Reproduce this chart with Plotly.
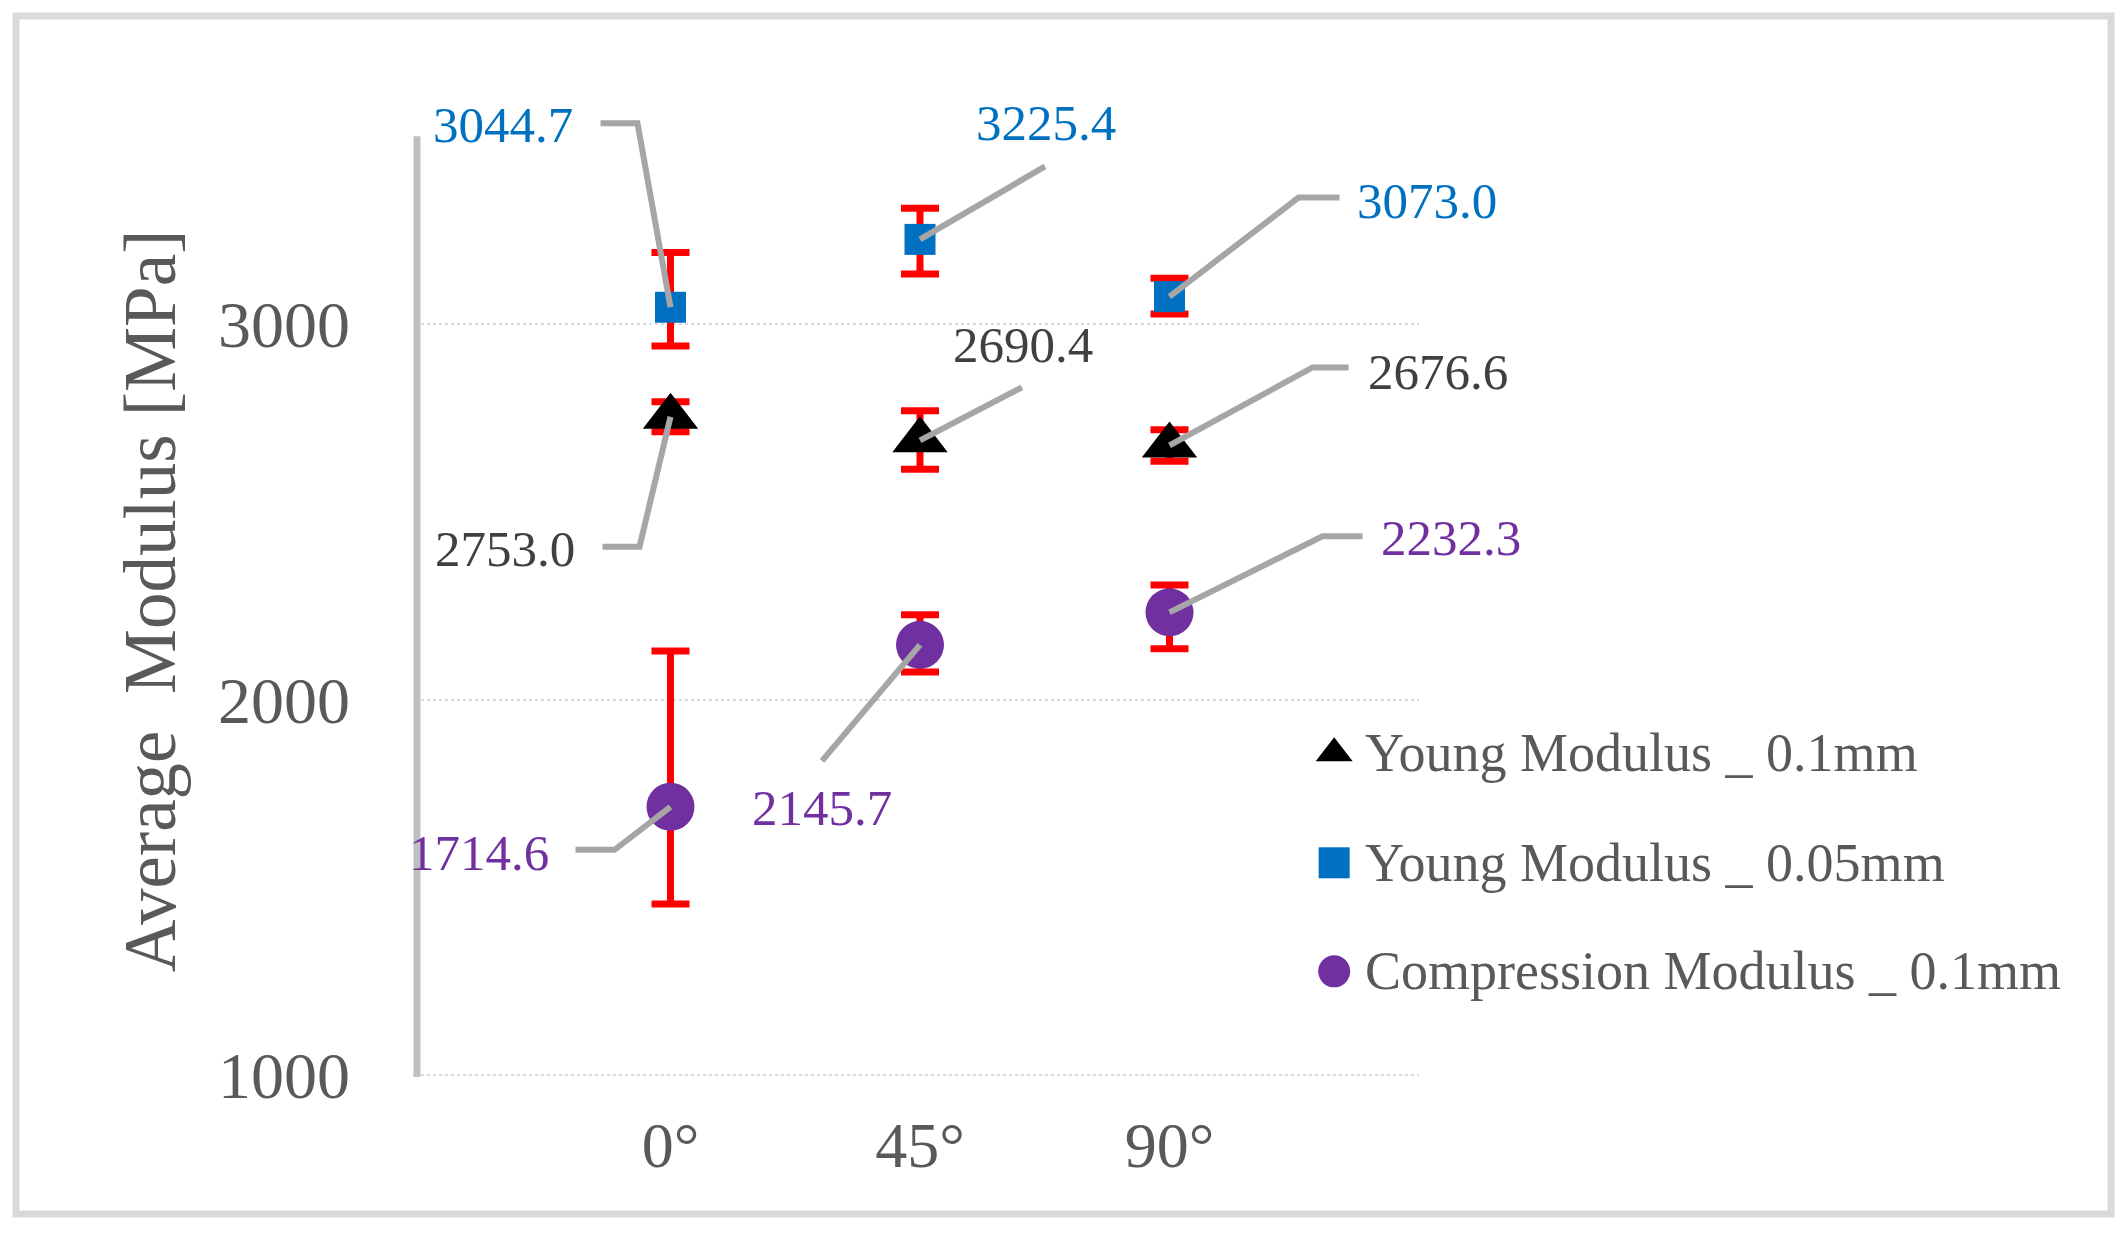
import plotly.graph_objects as go

# ── data ──────────────────────────────────────────────────────────────
categories = ["0°", "45°", "90°"]
x_pos = [1, 2, 3]

young_01_name = "Young Modulus _ 0.1mm"
young_01 = [2753.0, 2690.4, 2676.6]
young_01_err_plus = [40, 79, 42]
young_01_err_minus = [40, 77, 42]

young_005_name = "Young Modulus _ 0.05mm"
young_005 = [3044.7, 3225.4, 3073.0]
young_005_err_plus = [146, 83, 49]
young_005_err_minus = [103, 92, 46]

comp_01_name = "Compression Modulus _ 0.1mm"
comp_01 = [1714.6, 2145.7, 2232.3]
comp_01_err_plus = [415, 80, 73]
comp_01_err_minus = [259, 72, 97]

# ── style ─────────────────────────────────────────────────────────────
FONT = "Liberation Serif"
GREY_TXT = "#595959"
LEADER = "#A6A6A6"
# page body has an 8px margin, so the figure is drawn 16px smaller
W, H = 2107, 1217
ML, MR, MT, MB = 413, 696, 117, 148
Y_RANGE = [995, 3530]   # a bit of head room so the top leader isn't clipped
Y_AXIS_TOP = 3500

# label placement in px relative to each point: leader path, text shift, anchor
label_style = {
    "young_01": [
        ("M0,0 L-31,-130 L-68,-130", -94, -132, "right"),
        ("M0,0 L102,53", 103, 95, "center"),
        ("M0,0 L143,78 L179,78", 196, 73, "left"),
    ],
    "young_005": [
        ("M0,0 L-33,184 L-70,184", -96, 182, "right"),
        ("M0,0 L125,73", 126, 116, "center"),
        ("M0,0 L129,99 L170,99", 185, 96, "left"),
    ],
    "comp_01": [
        ("M0,0 L-56,-43 L-95,-43", -120, -46, "right"),
        ("M0,0 L-98,-116", -98, -163, "center"),
        ("M0,0 L153,76 L193,76", 209, 74, "left"),
    ],
}

series = [
    ("young_01", young_01_name, young_01, young_01_err_plus, young_01_err_minus,
     "#000000", "#404040", "triangle-up", 48),
    ("young_005", young_005_name, young_005, young_005_err_plus, young_005_err_minus,
     "#0070C0", "#0070C0", "square", 31),
    ("comp_01", comp_01_name, comp_01, comp_01_err_plus, comp_01_err_minus,
     "#7030A0", "#7030A0", "circle", 48),
]


def y_frac(v):
    return (v - Y_RANGE[0]) / (Y_RANGE[1] - Y_RANGE[0])


fig = go.Figure()
annotations = []
shapes = []

for key, name, vals, ep, em, mcol, tcol, sym, size in series:
    fig.add_trace(go.Scatter(
        x=x_pos, y=vals, mode="markers", name=name, showlegend=False,
        marker=dict(symbol=sym, size=size, color=mcol),
        error_y=dict(type="data", symmetric=False, array=ep, arrayminus=em,
                     color="#FF0000", thickness=7, width=19),
        cliponaxis=False,
    ))
    for i, v in enumerate(vals):
        path, dx, dy, anchor = label_style[key][i]
        # yref paper -> only clipped horizontally, so leaders may leave the plot top
        shapes.append(dict(
            type="path", xref="x", yref="paper", xsizemode="pixel", ysizemode="pixel",
            xanchor=x_pos[i], yanchor=y_frac(v), path=path, layer="above",
            line=dict(color=LEADER, width=6),
        ))
        annotations.append(dict(
            x=x_pos[i], y=v, xref="x", yref="y", text=f"{v:.1f}", showarrow=False,
            xanchor=anchor, yanchor="middle", xshift=dx, yshift=dy,
            font=dict(family=FONT, size=51, color=tcol),
        ))

# y axis line only up to 3500
shapes.append(dict(
    type="line", xref="paper", yref="y", xsizemode="pixel", xanchor=0,
    x0=-4, x1=-4, y0=Y_RANGE[0], y1=Y_AXIS_TOP, layer="below",
    line=dict(color="#BFBFBF", width=7),
))

# manual legend (bigger symbols than plotly's legend allows)
legend_x_marker = 0.915
legend_x_text = 0.944
legend_rows = [0.340, 0.225, 0.111]
legend_sizes = [32, 31, 32]
for (key, name, vals, ep, em, mcol, tcol, sym, size), ly, ls in zip(series, legend_rows, legend_sizes):
    fig.add_trace(go.Scatter(
        x=[legend_x_marker], y=[ly], xaxis="x2", yaxis="y2", mode="markers",
        marker=dict(symbol=sym, size=ls, color=mcol), showlegend=False,
        hoverinfo="skip", cliponaxis=False,
    ))
    annotations.append(dict(
        x=legend_x_text, y=ly, xref="paper", yref="paper", text=name, showarrow=False,
        xanchor="left", yanchor="middle",
        font=dict(family=FONT, size=54, color=GREY_TXT),
    ))


def px_x(p):
    return (p - ML) / (W - ML - MR)


def px_y(p):
    return (H - MB - p) / (H - MT - MB)


# outer chart border
shapes.append(dict(
    type="rect", xref="paper", yref="paper",
    x0=px_x(8), x1=px_x(2103), y0=px_y(1206), y1=px_y(8),
    line=dict(color="#D9D9D9", width=7), layer="below",
))

fig.update_layout(
    width=W, height=H,
    margin=dict(l=ML, r=MR, t=MT, b=MB),
    paper_bgcolor="white", plot_bgcolor="white",
    font=dict(family=FONT, color=GREY_TXT),
    showlegend=False,
    annotations=annotations,
    shapes=shapes,
    xaxis=dict(
        range=[0, 4], tickvals=x_pos, ticktext=categories,
        showgrid=False, showline=False, zeroline=False, ticks="",
        tickfont=dict(family=FONT, size=64, color=GREY_TXT),
        ticklabelstandoff=25,
    ),
    yaxis=dict(
        range=Y_RANGE, tickvals=[1000, 2000, 3000],
        showgrid=True, gridcolor="#D9D9D9", griddash="dot", gridwidth=2,
        showline=False, zeroline=False, ticks="",
        tickfont=dict(family=FONT, size=66, color=GREY_TXT),
        ticklabelstandoff=70,
        title=dict(text="Average\u00a0\u00a0Modulus [MPa]", standoff=18,
                   font=dict(family=FONT, size=73, color=GREY_TXT)),
    ),
    xaxis2=dict(overlaying="x", anchor="y2", range=[0, 1], visible=False),
    yaxis2=dict(overlaying="y", anchor="x2", range=[0, 1], visible=False),
)

fig.write_html("out.html")
